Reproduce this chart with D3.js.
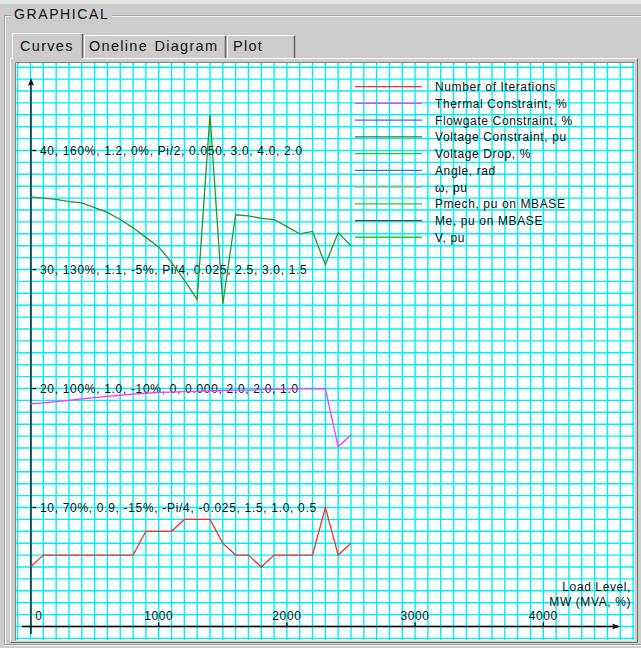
<!DOCTYPE html>
<html><head><meta charset="utf-8">
<script src="https://cdn.jsdelivr.net/npm/d3@7/dist/d3.min.js"></script>
<style>body{margin:0;background:#cccccc;} svg{display:block;font-family:"Liberation Sans",Arial,sans-serif;}</style>
</head><body><svg id="c" width="641" height="648"></svg>
<script>
// ---- data ----
const loadMW = [0,100,200,300,400,500,600,700,800,900,1000,1100,1200,1300,1400,1500,1600,1700,1800,1900,2000,2100,2200,2300,2400,2500];
const iterations = [5,6,6,6,6,6,6,6,6,8,8,8,9,9,9,7,6,6,5,6,6,6,6,10,6,7];
const thermalPct = [96.1,96.4,96.7,97.0,97.4,97.7,98.0,98.3,98.6,98.8,99.0,99.1,99.2,99.3,99.4,99.5,99.6,99.6,99.7,99.8,99.9,99.9,99.9,99.9,85.3,88.3];
const voltagePu = [1.161,1.160,1.159,1.157,1.156,1.152,1.148,1.142,1.135,1.127,1.119,1.106,1.091,1.075,1.230,1.071,1.146,1.145,1.143,1.142,1.136,1.130,1.132,1.104,1.131,1.120];
const legendLabels = ["Number of Iterations","Thermal Constraint, %","Flowgate Constraint, %","Voltage Constraint, pu","Voltage Drop, %","Angle, rad","\u03c9, pu","Pmech, pu on MBASE","Me, pu on MBASE","V, pu"];
const legendColors = ["#ff2a2a","#ff33ff","#5a5aff","#1a7a3a","#22cc22","#5a5aff","#c8a860","#22cc22","#404848","#22cc22"];
const xTickValues = [0,1000,2000,3000,4000];
const xTickLabels = ["0","1000","2000","3000","4000"];
const yTickValues = [10,20,30,40];
const yTickLabels = ["10, 70%, 0.9, -15%, -Pi/4, -0.025, 1.5, 1.0, 0.5","20, 100%, 1.0, -10%, 0, 0.000, 2.0, 2.0, 1.0","30, 130%, 1.1, -5%, Pi/4, 0.025, 2.5, 3.0, 1.5","40, 160%, 1.2, 0%, Pi/2, 0.050, 3.0, 4.0, 2.0"];
const tabNames = ["Curves","Oneline Diagram","Plot"];
const xAxisTitle = ["Load Level,","MW (MVA, %)"];

// ---- scales ----
const x = d3.scaleLinear().domain([0,4000]).range([30.5,543.3]);
const yU = d3.scaleLinear().domain([0,40]).range([626.5,150.5]);
const yPct = d3.scaleLinear().domain([40,160]).range([626.5,150.5]);
const yPu = d3.scaleLinear().domain([0.8,1.2]).range([626.5,150.5]);

const svg = d3.select("#c");
// window chrome
svg.append("rect").attr("width",641).attr("height",648).attr("fill","#cccccc");
svg.append("rect").attr("width",641).attr("height",4).attr("fill","#e4e4e4");
// group box
const gb = svg.append("g").attr("fill","none");
gb.append("path").attr("d","M4.5,645 V15.5 H11 M112,15.5 H641").attr("stroke","#a0a0a0");
gb.append("path").attr("d","M5.5,645 V16.5 H11 M112,16.5 H641").attr("stroke","#f4f4f4");
gb.append("path").attr("d","M4.5,644.5 H641").attr("stroke","#a0a0a0");
gb.append("path").attr("d","M4.5,645.5 H641").attr("stroke","#f4f4f4");
svg.append("text").attr("x",14).attr("y",19).attr("font-size",14).attr("letter-spacing",1.6).attr("fill","#111").text("GRAPHICAL");

// tab page border
const tp = svg.append("g").attr("fill","none");
tp.append("path").attr("d","M10.5,642 V58.5 H638").attr("stroke","#ffffff");
tp.append("path").attr("d","M637.5,58.5 V642.5 H10.5").attr("stroke","#707070");
// tabs
const tabs = [{x0:12,x1:83,top:33},{x0:84,x1:226,top:35},{x0:227,x1:295,top:35}];
const tabTextX = [20,89,233];
tabs.forEach((t,i)=>{
  const g = svg.append("g");
  g.append("rect").attr("x",t.x0).attr("y",t.top).attr("width",t.x1-t.x0).attr("height",(i===0?60:58)-t.top).attr("fill","#cccccc");
  g.append("path").attr("d",`M${t.x0+0.5},${i===0?59:58} V${t.top+0.5} H${t.x1-1}`).attr("stroke","#ffffff").attr("fill","none");
  g.append("path").attr("d",`M${t.x1-0.5},${t.top+1} V58`).attr("stroke","#606060").attr("stroke-width",1.5).attr("fill","none");
  g.append("text").attr("x",tabTextX[i]).attr("y",50.5).attr("font-size",14.5).attr("letter-spacing",1.3).attr("word-spacing",1).attr("fill","#111").text(tabNames[i]);
});
svg.append("path").attr("d","M11,58.5 H12 M83,58.5 H84").attr("stroke","#ffffff");

// panel
svg.append("rect").attr("x",15).attr("y",62).attr("width",620).attr("height",579).attr("fill","#ffffff");
svg.append("path").attr("d","M15.5,641 V62.5 H635").attr("stroke","#808080").attr("fill","none");
svg.append("path").attr("d","M634.5,62.5 V640.5 H15.5").attr("stroke","#e8e8e8").attr("fill","none");

svg.append("clipPath").attr("id","pc").append("rect").attr("x",16).attr("y",63).attr("width",618).attr("height",577);
const plot = svg.append("g").attr("clip-path","url(#pc)");

// grid
const grid = plot.append("g").attr("stroke","#00f0f0").attr("stroke-width",1.4);
grid.selectAll(".gv").data(d3.range(-100,4800,100)).join("line")
  .attr("x1",d=>x(d)).attr("x2",d=>x(d)).attr("y1",63).attr("y2",641);
grid.selectAll(".gh").data(d3.range(-1,48)).join("line")
  .attr("y1",d=>yU(d)).attr("y2",d=>yU(d)).attr("x1",16).attr("x2",634);

// axes
const ax = plot.append("g").attr("stroke","#000").attr("stroke-width",1.3);
ax.append("line").attr("x1",22).attr("x2",618).attr("y1",yU(0)).attr("y2",yU(0));
ax.append("line").attr("x1",31).attr("x2",31).attr("y1",634).attr("y2",80);
plot.append("path").attr("d",`M620,${yU(0)} L612,${yU(0)-3} L614,${yU(0)} L612,${yU(0)+3} Z`).attr("fill","#000");
plot.append("path").attr("d","M31,78 L28,86 L31,84 L34,86 Z").attr("fill","#000");

// x ticks
ax.selectAll(".xt").data(xTickValues.slice(1)).join("line")
  .attr("x1",d=>x(d)).attr("x2",d=>x(d)).attr("y1",yU(0)-4).attr("y2",yU(0));
plot.selectAll(".xl").data(xTickValues).join("text")
  .attr("x",(d,i)=>i===0?39:x(d)).attr("y",619.5).attr("text-anchor","middle")
  .attr("font-size",12).attr("letter-spacing",0.6).attr("fill","#111")
  .text((d,i)=>xTickLabels[i]);
plot.selectAll(".xat").data(xAxisTitle).join("text")
  .attr("x",631).attr("y",(d,i)=>591+i*14.5).attr("text-anchor","end")
  .attr("font-size",12).attr("letter-spacing",0.6).attr("fill","#111").text(d=>d);

// y ticks
ax.selectAll(".yt").data(yTickValues).join("line")
  .attr("x1",32.5).attr("x2",36).attr("y1",d=>yU(d)).attr("y2",d=>yU(d));
plot.selectAll(".yl").data(yTickValues).join("text")
  .attr("x",40).attr("y",d=>yU(d)+4.5)
  .attr("font-size",12).attr("letter-spacing",0.68).attr("fill","#111")
  .text((d,i)=>yTickLabels[i]);

// curves
const lineIt = d3.line().x((d,i)=>x(loadMW[i])).y(d=>yU(d));
const linePct = d3.line().x((d,i)=>x(loadMW[i])).y(d=>yPct(d));
const linePu = d3.line().x((d,i)=>x(loadMW[i])).y(d=>yPu(d));
plot.append("path").attr("d",linePu(voltagePu)).attr("fill","none").attr("stroke","#2f8f2f").attr("stroke-width",1.3);
plot.append("path").attr("d",linePct(thermalPct)).attr("fill","none").attr("stroke","#ff33ff").attr("stroke-width",1.3);
plot.append("path").attr("d",lineIt(iterations)).attr("fill","none").attr("stroke","#ff2a2a").attr("stroke-width",1.3);

// legend
const lg = plot.append("g");
lg.selectAll("line").data(legendLabels).join("line")
  .attr("x1",355).attr("x2",422).attr("y1",(d,i)=>86.7+i*16.73).attr("y2",(d,i)=>86.7+i*16.73)
  .attr("stroke",(d,i)=>legendColors[i]).attr("stroke-width",1.3);
lg.selectAll("text").data(legendLabels).join("text")
  .attr("x",435).attr("y",(d,i)=>86.7+i*16.73+4.5)
  .attr("font-size",12).attr("letter-spacing",0.62).attr("fill","#111").text(d=>d);
</script></body></html>
